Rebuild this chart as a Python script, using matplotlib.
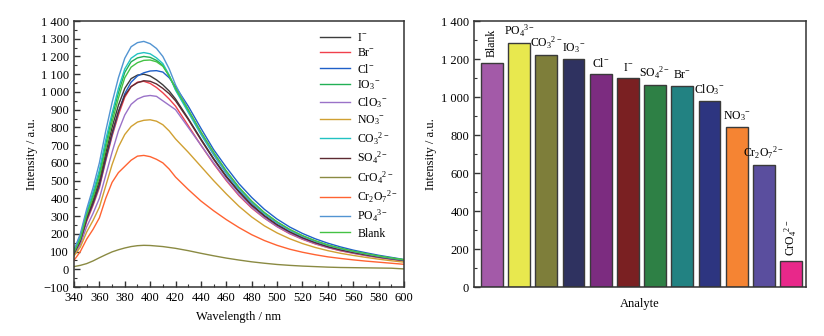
import matplotlib
matplotlib.use("Agg")
import matplotlib.pyplot as plt
from matplotlib.ticker import MultipleLocator, FuncFormatter

plt.rcParams['font.family'] = ['Liberation Serif', 'DejaVu Serif']
plt.rcParams['mathtext.fontset'] = 'custom'
plt.rcParams['mathtext.rm'] = 'Liberation Serif'
plt.rcParams['mathtext.it'] = 'Liberation Serif:italic'
plt.rcParams['axes.unicode_minus'] = True

# ---------------- data: spectra ----------------
wavelength = [340, 345, 350, 355, 360, 365, 370, 375, 380, 385, 390, 395, 400, 405, 410, 415,
              420, 430, 440, 450, 460, 470, 480, 490, 500, 510, 520, 530, 540, 550, 560,
              570, 580, 590, 600]

spec_I = [92, 165, 290, 390, 500, 655, 800, 925, 1020, 1075, 1095, 1100, 1090, 1068, 1040, 1005,
          960, 850, 735, 625, 525, 440, 365, 303, 252, 212, 178, 151, 128, 110, 95, 82, 70, 60, 50]
spec_Br = [85, 150, 270, 360, 460, 610, 750, 870, 970, 1030, 1055, 1060, 1048, 1025, 995, 960,
           920, 810, 700, 595, 500, 415, 345, 288, 240, 200, 169, 143, 122, 104, 90, 77, 66, 56, 47]
spec_Cl = [90, 160, 280, 370, 470, 620, 760, 885, 990, 1055, 1090, 1108, 1118, 1120, 1112, 1080,
           1030, 920, 795, 675, 575, 482, 405, 338, 283, 238, 202, 172, 147, 126, 108, 93, 79, 67, 55]
spec_IO3 = [100, 180, 315, 420, 540, 705, 860, 995, 1110, 1170, 1192, 1200, 1195, 1178, 1150, 1090,
            1015, 895, 770, 655, 550, 460, 382, 318, 265, 222, 188, 160, 136, 117, 101, 87, 74, 63, 53]
spec_ClO3 = [80, 140, 240, 315, 400, 530, 660, 780, 870, 930, 960, 975, 980, 975, 950, 925,
             900, 800, 700, 600, 505, 420, 350, 290, 242, 203, 171, 145, 123, 106, 91, 78, 67, 57, 48]
spec_NO3 = [75, 125, 210, 275, 350, 470, 590, 690, 760, 805, 830, 840, 843, 835, 815, 780,
            735, 660, 580, 500, 425, 355, 295, 245, 205, 172, 145, 123, 105, 90, 78, 67, 57, 48, 40]
spec_CO3 = [105, 190, 325, 435, 560, 730, 880, 1020, 1130, 1190, 1215, 1222, 1215, 1192, 1160, 1095,
            1010, 885, 760, 645, 540, 450, 375, 312, 260, 218, 184, 156, 133, 114, 98, 85, 72, 62, 52]
spec_SO4 = [88, 160, 285, 375, 480, 630, 770, 890, 980, 1030, 1052, 1063, 1060, 1045, 1020, 990,
            950, 845, 730, 620, 520, 435, 360, 300, 250, 210, 177, 150, 127, 109, 94, 81, 69, 59, 49]
spec_CrO4 = [15, 22, 32, 47, 65, 82, 98, 110, 120, 128, 133, 135, 134, 131, 128, 123,
             118, 105, 90, 76, 63, 52, 42, 34, 27, 22, 18, 15, 12, 10, 9, 8, 7, 6, 2]
spec_Cr2O7 = [50, 100, 170, 225, 290, 400, 490, 545, 580, 615, 638, 642, 635, 620, 600, 565,
              520, 450, 385, 330, 280, 235, 195, 162, 135, 113, 96, 82, 70, 61, 53, 46, 40, 34, 28]
spec_PO4 = [110, 200, 340, 460, 600, 780, 940, 1080, 1190, 1255, 1278, 1285, 1272, 1245, 1200, 1130,
            1040, 900, 770, 650, 545, 455, 378, 315, 262, 220, 186, 158, 135, 116, 100, 86, 73, 62, 52]
spec_Blank = [95, 170, 305, 405, 520, 680, 830, 965, 1080, 1140, 1165, 1178, 1180, 1170, 1145, 1090,
              1020, 900, 775, 660, 555, 462, 385, 320, 268, 225, 190, 161, 137, 118, 102, 88, 75, 64, 54]

spec_labels = [r'I$^{-}$', r'Br$^{-}$', r'Cl$^{-}$', r'IO$_3$$^{-}$', r'ClO$_3$$^{-}$',
               r'NO$_3$$^{-}$', r'CO$_3$$^{2-}$', r'SO$_4$$^{2-}$', r'CrO$_4$$^{2-}$',
               r'Cr$_2$O$_7$$^{2-}$', r'PO$_4$$^{3-}$', 'Blank']
spec_colors = ['#3c3c3c', '#f0404c', '#1f60c8', '#22b055', '#9a72c8', '#d0a032',
               '#22c2c2', '#5c2a32', '#8a8a42', '#ff6332', '#5294d2', '#44c244']
spectra = [spec_I, spec_Br, spec_Cl, spec_IO3, spec_ClO3, spec_NO3, spec_CO3,
           spec_SO4, spec_CrO4, spec_Cr2O7, spec_PO4, spec_Blank]

# ---------------- data: bars ----------------
bar_labels = ['Blank', r'PO$_4$$^{3-}$', r'CO$_3$$^{2-}$', r'IO$_3$$^{-}$', r'Cl$^{-}$',
              r'I$^{-}$', r'SO$_4$$^{2-}$', r'Br$^{-}$', r'ClO$_3$$^{-}$', r'NO$_3$$^{-}$',
              r'Cr$_2$O$_7$$^{2-}$', r'CrO$_4$$^{2-}$']
bar_values = [1180, 1285, 1222, 1200, 1120, 1100, 1063, 1060, 980, 843, 642, 135]
bar_colors = ['#a35aa8', '#e8e84e', '#7e7e3a', '#2f3260', '#7c2c80', '#7a2022',
              '#2e8045', '#228282', '#2d3580', '#f58433', '#5a4e9e', '#e8288a']
bar_rotated = [True, False, False, False, False, False, False, False, False, False, False, True]

# ---------------- figure ----------------
W, H = 824, 336
fig = plt.figure(figsize=(W / 100, H / 100), dpi=100)


def fmt(v, pos):
    v = int(round(v))
    s = f"{abs(v):,}".replace(",", " ")
    return ("\u2212" + s) if v < 0 else s


spine_col = '#333333'
fs = 9

ax1 = fig.add_axes([74 / W, 49 / H, 330 / W, 266 / H])
for y, c, lab in zip(spectra, spec_colors, spec_labels):
    ax1.plot(wavelength, y, color=c, lw=1.0, label=lab)
ax1.set_xlim(340, 600)
ax1.set_ylim(-100, 1400)
ax1.xaxis.set_major_locator(MultipleLocator(20))
ax1.xaxis.set_minor_locator(MultipleLocator(10))
ax1.yaxis.set_major_locator(MultipleLocator(100))
ax1.yaxis.set_minor_locator(MultipleLocator(50))
ax1.yaxis.set_major_formatter(FuncFormatter(fmt))
ax1.set_xlabel('Wavelength / nm', fontsize=fs, labelpad=5)
ax1.set_ylabel('Intensity / a.u.', fontsize=fs, labelpad=2)
leg = ax1.legend(loc='upper left', bbox_to_anchor=(0.73, 0.975), frameon=False,
                 fontsize=8.5, handlelength=2.6, handletextpad=0.6, labelspacing=0.26,
                 borderaxespad=0.0)

ax2 = fig.add_axes([474 / W, 49 / H, 332 / W, 266 / H])
xpos = list(range(len(bar_values)))
bars = ax2.bar(xpos, bar_values, width=0.8, color=bar_colors, edgecolor='#3a3a3a', linewidth=1.0)
for x, v, lab, rot in zip(xpos, bar_values, bar_labels, bar_rotated):
    if rot:
        ax2.annotate(lab, (x, v), xytext=(0, 4), textcoords='offset points',
                     ha='center', va='bottom', rotation=90, fontsize=8.5)
    else:
        ax2.annotate(lab, (x, v), xytext=(0, 3), textcoords='offset points',
                     ha='center', va='bottom', fontsize=8.5)
ax2.set_xlim(-0.66, 11.55)
ax2.set_ylim(0, 1400)
ax2.set_xticks([])
ax2.yaxis.set_major_locator(MultipleLocator(200))
ax2.yaxis.set_minor_locator(MultipleLocator(100))
ax2.yaxis.set_major_formatter(FuncFormatter(fmt))
ax2.set_xlabel('Analyte', fontsize=fs, labelpad=8)
ax2.set_ylabel('Intensity / a.u.', fontsize=fs, labelpad=3)

for ax in (ax1, ax2):
    for s in ax.spines.values():
        s.set_color(spine_col)
        s.set_linewidth(1.1)
    ax.tick_params(which='both', direction='in', labelsize=fs, color=spine_col)
    ax.tick_params(which='major', length=4, width=1.0)
    ax.tick_params(which='minor', length=2.5, width=0.8)

fig.savefig('out.png', dpi=100)
